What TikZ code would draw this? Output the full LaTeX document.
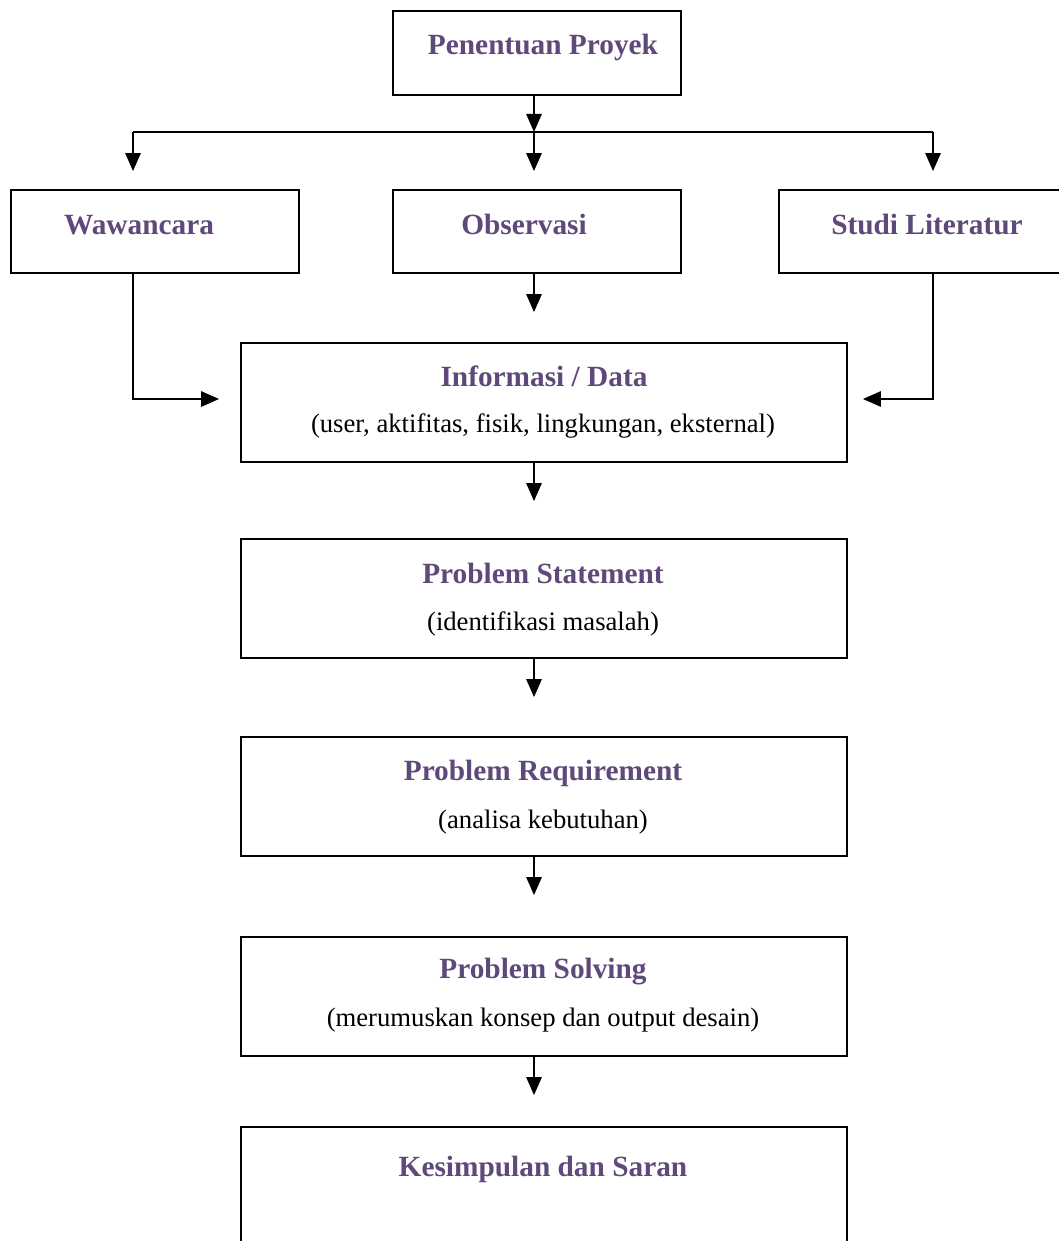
\documentclass[tikz,border=0pt]{standalone}
\usepackage{fontspec}
\setmainfont{Liberation Serif}
\usetikzlibrary{arrows.meta}
\definecolor{ttl}{RGB}{95,73,122}
\begin{document}
\begin{tikzpicture}[x=0.75pt,y=-0.75pt,
  box/.style={draw,line width=1.4pt,inner sep=0pt},
  ttlstyle/.style={font=\fontsize{22}{26}\selectfont\bfseries,text=ttl,inner sep=0pt,anchor=base},
  substyle/.style={font=\fontsize{20}{24}\selectfont,inner sep=0pt,anchor=base},
  conn/.style={line width=1.4pt},
  arr/.style={conn,-{Triangle[length=13.5pt,width=11.5pt]}}]
\useasboundingbox (0,0) rectangle (1059,1241);
% boxes
\node[box,minimum width=288*0.75pt,minimum height=84*0.75pt] (pp) at (537,53) {};
\node[box,minimum width=288*0.75pt,minimum height=83*0.75pt] (ww) at (155,231.5) {};
\node[box,minimum width=288*0.75pt,minimum height=83*0.75pt] (ob) at (537,231.5) {};
\node[box,minimum width=300*0.75pt,minimum height=83*0.75pt] (sl) at (929,231.5) {};
\node[box,minimum width=606*0.75pt,minimum height=119*0.75pt] (info) at (544,402.5) {};
\node[box,minimum width=606*0.75pt,minimum height=119*0.75pt] (ps) at (544,598.5) {};
\node[box,minimum width=606*0.75pt,minimum height=119*0.75pt] (pr) at (544,796.5) {};
\node[box,minimum width=606*0.75pt,minimum height=119*0.75pt] (psv) at (544,996.5) {};
\node[box,minimum width=606*0.75pt,minimum height=180*0.75pt] (ks) at (544,1217) {};
% texts
\node[ttlstyle] (tpp) at (543,55) {Penentuan Proyek};
\node[ttlstyle] (tww) at (139,234) {Wawancara};
\node[ttlstyle] (tob) at (524,234) {Observasi};
\node[ttlstyle] (tsl) at (927,234) {Studi Literatur};
\node[ttlstyle] (tinfo) at (544,386) {Informasi / Data};
\node[substyle] (sinfo) at (543,432) {(user, aktifitas, fisik, lingkungan, eksternal)};
\node[ttlstyle] (tps) at (543,583) {Problem Statement};
\node[substyle] (sps) at (543,630) {(identifikasi masalah)};
\node[ttlstyle] (tpr) at (543,780) {Problem Requirement};
\node[substyle] (spr) at (543,828) {(analisa kebutuhan)};
\node[ttlstyle] (tpsv) at (543,978) {Problem Solving};
\node[substyle] (spsv) at (543,1026) {(merumuskan konsep dan output desain)};
\node[ttlstyle] (tks) at (543,1176) {Kesimpulan dan Saran};
% connectors
\coordinate (hub) at (534,132);
\coordinate (hl) at (133,132);
\coordinate (hr) at (933,132);
\draw[arr] (pp.south -| hub) -- (hub);
\draw[conn] (hl) -- (hr);
\draw[arr] (hl) -- ([yshift=18*0.75pt]ww.north -| hl);
\draw[arr] (hub) -- ([yshift=18*0.75pt]ob.north -| hub);
\draw[arr] (hr) -- ([yshift=18*0.75pt]sl.north -| hr);
\draw[arr] (ob.south -| hub) -- ([yshift=30*0.75pt]info.north -| hub);
\coordinate (wwl) at (133,399);
\coordinate (sll) at (933,399);
\draw[arr] (ww.south -| wwl) -- (wwl) -- ([xshift=-21*0.75pt]info.west |- wwl);
\draw[arr] (sl.south -| sll) -- (sll) -- ([xshift=15*0.75pt]info.east |- sll);
\draw[arr] (info.south -| hub) -- ([yshift=37*0.75pt]ps.north -| hub);
\draw[arr] (ps.south -| hub) -- ([yshift=39*0.75pt]pr.north -| hub);
\draw[arr] (pr.south -| hub) -- ([yshift=41*0.75pt]psv.north -| hub);
\draw[arr] (psv.south -| hub) -- ([yshift=31*0.75pt]ks.north -| hub);
\end{tikzpicture}
\end{document}
